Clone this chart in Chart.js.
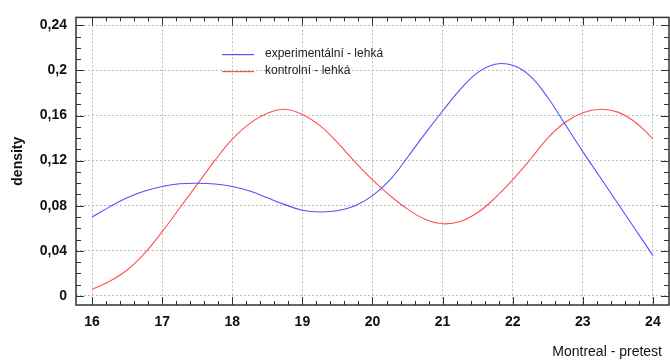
<!DOCTYPE html>
<html>
<head>
<meta charset="utf-8">
<script src="https://cdn.jsdelivr.net/npm/chart.js@4"></script>
<style>
  html, body { margin: 0; padding: 0; background: #fff; }
  #wrap { width: 670px; height: 362px; }
</style>
</head>
<body>
<div id="wrap"><canvas id="densityChart" width="670" height="362"></canvas></div>
<script>
const xValues = [16, 16.25, 16.5, 16.75, 17, 17.25, 17.5, 17.75, 18, 18.25, 18.5, 18.75,
  19, 19.25, 19.5, 19.75, 20, 20.25, 20.5, 20.75, 21, 21.25, 21.5, 21.75,
  22, 22.25, 22.5, 22.75, 23, 23.25, 23.5, 23.75, 24];
const experimental = [0.070, 0.079, 0.087, 0.093, 0.097, 0.0995, 0.100, 0.0993, 0.097, 0.093, 0.087, 0.081,
  0.076, 0.0745, 0.0755, 0.080, 0.089, 0.103, 0.123, 0.144, 0.164, 0.183, 0.198, 0.2055,
  0.2045, 0.195, 0.176, 0.152, 0.128, 0.105, 0.082, 0.059, 0.036];
const control = [0.006, 0.013, 0.023, 0.038, 0.057, 0.078, 0.099, 0.120, 0.139, 0.153, 0.162, 0.1655,
  0.161, 0.151, 0.136, 0.119, 0.103, 0.089, 0.077, 0.068, 0.064, 0.066, 0.074, 0.087,
  0.103, 0.121, 0.140, 0.154, 0.1625, 0.1655, 0.163, 0.154, 0.1395];
const seriesNames = ["experimentální - lehká", "kontrolní - lehká"];
const xTitle = "Montreal - pretest";
const yTitle = "density";

const blue = "rgb(80,80,255)";
const red = "rgb(255,80,80)";
const fontFamily = "Arial, 'Liberation Sans', sans-serif";
const labelFont = { family: fontFamily, size: 14, weight: "bold" };

// frame, inner tick marks, legend and x title drawn on top of the chart
const framePlugin = {
  id: "frame",
  afterDraw(chart) {
    const { ctx, chartArea: a, scales } = chart;
    const xs = scales.x, ys = scales.y;
    ctx.save();
    ctx.strokeStyle = "#333";
    ctx.lineWidth = 1;
    ctx.beginPath();
    for (let v = 16; v <= 24.001; v += 0.2) {
      const px = Math.round(xs.getPixelForValue(v)) + 0.5;
      const major = Math.abs(v - Math.round(v)) < 0.01;
      const len = major ? 8 : 4;
      ctx.moveTo(px, a.bottom); ctx.lineTo(px, a.bottom - len);
      ctx.moveTo(px, a.top); ctx.lineTo(px, a.top + len);
    }
    for (let i = 0; i <= 24; i++) {
      const py = Math.round(ys.getPixelForValue(i / 100)) + 0.5;
      const len = i % 4 === 0 ? 8 : 5;
      ctx.moveTo(a.left, py); ctx.lineTo(a.left + len, py);
      ctx.moveTo(a.right, py); ctx.lineTo(a.right - len, py);
    }
    ctx.stroke();
    ctx.lineWidth = 1.5;
    ctx.strokeRect(a.left, a.top, a.right - a.left, a.bottom - a.top);

    // legend
    const colors = [blue, red];
    ctx.font = "12px " + fontFamily;
    ctx.textBaseline = "middle";
    ctx.textAlign = "left";
    seriesNames.forEach((name, i) => {
      const y = 54 + i * 17;
      ctx.fillStyle = colors[i];
      ctx.fillRect(222, y, 32, 1.2);
      ctx.fillStyle = "#222";
      ctx.fillText(name, 265, y);
    });

    // x axis title, bottom right
    ctx.font = "14px " + fontFamily;
    ctx.textAlign = "right";
    ctx.fillStyle = "#111";
    ctx.fillText(xTitle, 662, 352);
    ctx.restore();
  },
};

new Chart(document.getElementById("densityChart"), {
  type: "line",
  data: {
    datasets: [
      {
        label: seriesNames[0],
        data: xValues.map((x, i) => ({ x, y: experimental[i] })),
        borderColor: blue,
        borderWidth: 1.1,
        pointRadius: 0,
        tension: 0.4,
      },
      {
        label: seriesNames[1],
        data: xValues.map((x, i) => ({ x, y: control[i] })),
        borderColor: red,
        borderWidth: 1.1,
        pointRadius: 0,
        tension: 0.4,
      },
    ],
  },
  options: {
    responsive: false,
    animation: false,
    layout: { padding: { top: 13, right: 1, left: 0, bottom: 0 } },
    plugins: { legend: { display: false }, tooltip: { enabled: false } },
    scales: {
      x: {
        type: "linear",
        min: 15.77,
        max: 24.23,
        afterFit(scale) { scale.height = 57; },
        ticks: {
          stepSize: 1,
          includeBounds: false,
          color: "#111",
          font: labelFont,
          padding: 9,
        },
        grid: { color: "#bbb", lineWidth: 1, drawTicks: false },
        border: { display: false, dash: [2, 2] },
      },
      y: {
        min: -0.008,
        max: 0.247,
        afterFit(scale) { scale.width = 76; },
        ticks: {
          stepSize: 0.04,
          includeBounds: false,
          color: "#111",
          font: labelFont,
          padding: 9,
          callback: (v) => String(Math.round(v * 100) / 100).replace(".", ","),
        },
        grid: { color: "#bbb", lineWidth: 1, drawTicks: false },
        border: { display: false, dash: [2, 2] },
        title: {
          display: true,
          text: yTitle,
          color: "#111",
          font: labelFont,
          padding: { top: 10, bottom: 0 },
        },
      },
    },
  },
  plugins: [framePlugin],
});
</script>
</body>
</html>
